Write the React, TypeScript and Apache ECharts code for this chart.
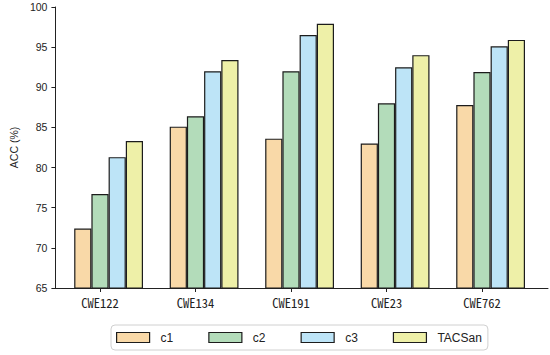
import React, { useEffect, useRef } from "react";
import * as echarts from "echarts";

const categories = ["CWE122", "CWE134", "CWE191", "CWE23", "CWE762"];
const seriesNames = ["c1", "c2", "c3", "TACSan"];
const c1 = [72.4, 85.1, 83.6, 83.0, 87.8];
const c2 = [76.7, 86.4, 92.0, 88.0, 91.9];
const c3 = [81.3, 92.0, 96.5, 92.5, 95.1];
const tacsan = [83.3, 93.4, 97.9, 94.0, 95.9];
const yTicks = { min: 65, max: 100, interval: 5 };

const colors = ["#F9D9A8", "#B3DCBA", "#BDE4F7", "#EEF0A8"];
const edge = "#1c1c1c";

export default function App() {
  const ref = useRef<HTMLDivElement>(null);
  useEffect(() => {
    if (!ref.current) return;
    const chart = echarts.init(ref.current, null, { renderer: "svg" });
    const values = [c1, c2, c3, tacsan];
    const barSeries: any[] = [
      {
        type: "bar",
        name: "__pad",
        xAxisIndex: 1,
        yAxisIndex: 1,
        data: [],
        barWidth: 17.2,
        barGap: "0%",
      },
      ...seriesNames.map((n, i) => ({
        type: "bar",
        name: n,
        xAxisIndex: 1,
        yAxisIndex: 1,
        data: values[i],
        barWidth: 17.2,
        barGap: "0%",
        itemStyle: { color: colors[i], borderColor: edge, borderWidth: 1.2 },
      })),
    ];
    chart.setOption({
      animation: false,
      grid: [
        { left: 52, right: 2, top: 7, bottom: 67 },
        { left: 52.25, width: 477.5, top: 7, bottom: 67 },
      ],
      xAxis: [
        {
          type: "value",
          gridIndex: 0,
          min: 0,
          max: 1,
          axisLine: { show: true, lineStyle: { color: "#222", width: 1 } },
          axisTick: { show: false },
          axisLabel: { show: false },
          splitLine: { show: false },
        },
        {
          type: "category",
          gridIndex: 1,
          data: categories,
          axisLine: { show: false },
          axisTick: {
            show: true,
            alignWithLabel: true,
            length: 4,
            lineStyle: { color: "#222" },
          },
          axisLabel: {
            margin: 8,
            fontSize: 12.5,
            color: "#222",
            fontFamily: "'Noto Sans Mono CJK SC', 'Liberation Sans Narrow', 'DejaVu Sans Condensed', sans-serif",
          },
        },
      ],
      yAxis: [
        {
          type: "value",
          gridIndex: 0,
          min: yTicks.min,
          max: yTicks.max,
          interval: yTicks.interval,
          name: "ACC (%)",
          nameLocation: "middle",
          nameGap: 34,
          nameTextStyle: {
            fontSize: 10.5,
            color: "#222",
            fontFamily: "'Liberation Sans', Arial, sans-serif",
          },
          axisLine: { show: true, lineStyle: { color: "#222", width: 1 } },
          axisTick: { show: true, length: 4, lineStyle: { color: "#222" } },
          axisLabel: {
            margin: 8,
            fontSize: 10.5,
            color: "#222",
            fontFamily: "'Liberation Sans', Arial, sans-serif",
          },
          splitLine: { show: false },
        },
        {
          type: "value",
          gridIndex: 1,
          min: yTicks.min,
          max: yTicks.max,
          interval: yTicks.interval,
          show: false,
          splitLine: { show: false },
        },
      ],
      legend: {
        data: seriesNames,
        left: 111,
        top: 325,
        orient: "horizontal",
        itemWidth: 33,
        itemHeight: 10,
        itemGap: 35,
        padding: [6, 6, 6, 5],
        borderColor: "#d0d0d0",
        borderWidth: 1,
        borderRadius: 4,
        icon: "rect",
        itemStyle: { borderColor: edge, borderWidth: 1.2 },
        textStyle: {
          fontSize: 12,
          color: "#222",
          padding: [0, 0, 0, 6],
          lineHeight: 13,
          fontFamily: "'Liberation Sans', Arial, sans-serif",
        },
      },
      series: barSeries,
    });
    return () => chart.dispose();
  }, []);
  return <div ref={ref} style={{ width: 550, height: 355, position: "absolute", left: 0, top: 0 }} />;
}
